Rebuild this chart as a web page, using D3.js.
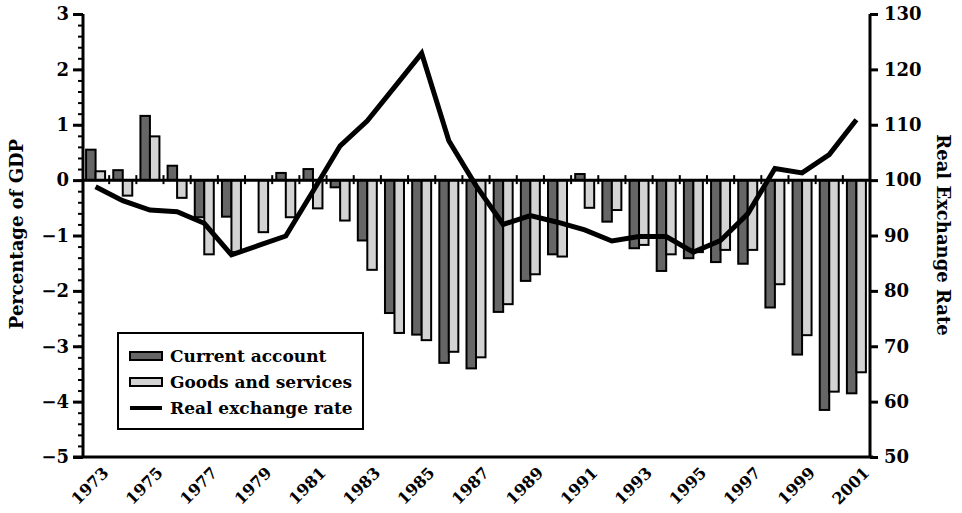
<!DOCTYPE html>
<html>
<head>
<meta charset="utf-8">
<script src="https://cdnjs.cloudflare.com/ajax/libs/d3/7.8.5/d3.min.js"></script>
<style>
  body { margin: 0; background: #fff; }
  svg text { font-family: "DejaVu Serif", "Liberation Serif", serif; font-weight: bold; fill: #000; }
</style>
</head>
<body>
<div id="chart"></div>
<script>
"use strict";

// == DATA ==
var years = d3.range(1973, 2002).map(String);
var currentAccount = [0.55, 0.18, 1.16, 0.26, -0.67, -0.66, 0.0, 0.13, 0.2, -0.13,
  -1.09, -2.4, -2.79, -3.3, -3.4, -2.38, -1.82, -1.34, 0.11, -0.75,
  -1.23, -1.64, -1.41, -1.48, -1.51, -2.3, -3.15, -4.15, -3.85];
var goodsServices = [0.16, -0.28, 0.79, -0.32, -1.34, -1.3, -0.94, -0.67, -0.51, -0.73,
  -1.62, -2.76, -2.89, -3.1, -3.2, -2.24, -1.7, -1.38, -0.5, -0.54,
  -1.17, -1.34, -1.3, -1.26, -1.26, -1.88, -2.8, -3.82, -3.47];
var exchangeRate = [98.8, 96.3, 94.6, 94.3, 92.2, 86.5, 88.2, 89.9, 98.0, 106.2,
  110.7, 116.8, 122.9, 107.1, 99.0, 92.0, 93.6, 92.4, 91.0, 89.0,
  89.8, 89.8, 87.0, 89.1, 93.9, 102.1, 101.3, 104.6, 110.9];
var leftTicks = [3, 2, 1, 0, -1, -2, -3, -4, -5];
var rightTicks = [130, 120, 110, 100, 90, 80, 70, 60, 50];
var labelYears = years.filter(function(d, i){ return i % 2 === 0; });
var legendItems = ["Current account", "Goods and services", "Real exchange rate"];

// == BOILERPLATE ==
var width = 962, height = 513;
var plotLeft = 83, plotRight = 870, plotTop = 14, plotBottom = 457;

var svg = d3.select("#chart")
            .append("svg")
            .attr("width", width)
            .attr("height", height);

var x = d3.scaleBand()
  .domain(years)
  .range([plotLeft - 1, plotRight]);

var yLeft = d3.scaleLinear()
  .domain([-5, 3])
  .range([plotBottom, plotTop]);

var yRight = d3.scaleLinear()
  .domain([50, 130])
  .range([plotBottom, plotTop]);

var barW = 9.5;
var rows = years.map(function(d, i){
  return { year: d, ca: currentAccount[i], gs: goodsServices[i], rate: exchangeRate[i] };
});

// == BARS ==
var bars = svg.append("g");
bars.selectAll(".ca")
  .data(rows)
  .enter()
  .append("rect")
  .attr("class", "ca")
  .attr("x", function(d){ return x(d.year) + x.bandwidth() / 2 - barW; })
  .attr("y", function(d){ return yLeft(Math.max(0, d.ca)); })
  .attr("width", barW)
  .attr("height", function(d){ return Math.abs(yLeft(d.ca) - yLeft(0)); })
  .attr("fill", "#666666")
  .attr("stroke", "#000")
  .attr("stroke-width", 2)
  .style("display", function(d){ return d.ca === 0 ? "none" : null; });

bars.selectAll(".gs")
  .data(rows)
  .enter()
  .append("rect")
  .attr("class", "gs")
  .attr("x", function(d){ return x(d.year) + x.bandwidth() / 2; })
  .attr("y", function(d){ return yLeft(Math.max(0, d.gs)); })
  .attr("width", barW)
  .attr("height", function(d){ return Math.abs(yLeft(d.gs) - yLeft(0)); })
  .attr("fill", "#d3d3d3")
  .attr("stroke", "#000")
  .attr("stroke-width", 2);

// zero line with category ticks
svg.append("line")
  .attr("x1", plotLeft).attr("x2", plotRight)
  .attr("y1", yLeft(0)).attr("y2", yLeft(0))
  .attr("stroke", "#000").attr("stroke-width", 3);

svg.selectAll(".cattick")
  .data(years.slice(1))
  .enter()
  .append("line")
  .attr("class", "cattick")
  .attr("x1", function(d){ return x(d); })
  .attr("x2", function(d){ return x(d); })
  .attr("y1", yLeft(0) - 5)
  .attr("y2", yLeft(0) + 4)
  .attr("stroke", "#000").attr("stroke-width", 2);

// == LINE ==
var line = d3.line()
  .x(function(d){ return x(d.year) + x.bandwidth() / 2; })
  .y(function(d){ return yRight(d.rate); });

svg.append("path")
  .datum(rows)
  .attr("d", line)
  .attr("fill", "none")
  .attr("stroke", "#000")
  .attr("stroke-width", 5)
  .attr("stroke-linejoin", "miter");

// == AXES ==
var leftAxis = svg.append("g")
  .attr("transform", "translate(" + plotLeft + ",0)")
  .call(d3.axisLeft(yLeft).tickValues(d3.range(-5, 3.01, 0.2)).tickSize(5).tickFormat(""));
leftAxis.select(".domain").remove();
leftAxis.selectAll("line").attr("stroke-width", 2);

var leftMajor = svg.append("g")
  .attr("transform", "translate(" + plotLeft + ",0)")
  .call(d3.axisLeft(yLeft).tickValues(leftTicks).tickSize(10).tickPadding(4)
        .tickFormat(function(d){ return d < 0 ? "\u2212" + Math.abs(d) : d; }));
leftMajor.select(".domain").remove();
leftMajor.selectAll("line").attr("stroke-width", 3);
leftMajor.selectAll("text").style("font-size", "18px");

svg.append("line")
  .attr("x1", plotLeft).attr("x2", plotLeft)
  .attr("y1", plotTop).attr("y2", plotBottom)
  .attr("stroke", "#000").attr("stroke-width", 3);

var rightAxis = svg.append("g")
  .attr("transform", "translate(" + plotRight + ",0)")
  .call(d3.axisRight(yRight).tickValues(rightTicks).tickSize(8).tickPadding(6));
rightAxis.select(".domain").remove();
rightAxis.selectAll("line").attr("stroke-width", 3);
rightAxis.selectAll("text").style("font-size", "18px");

svg.append("line")
  .attr("x1", plotRight).attr("x2", plotRight)
  .attr("y1", plotTop).attr("y2", plotBottom)
  .attr("stroke", "#000").attr("stroke-width", 3);

svg.append("line")
  .attr("x1", plotLeft - 10).attr("x2", plotRight + 3)
  .attr("y1", plotBottom).attr("y2", plotBottom)
  .attr("stroke", "#000").attr("stroke-width", 3);

// year labels, rotated
svg.selectAll(".yearlabel")
  .data(labelYears)
  .enter()
  .append("text")
  .attr("class", "yearlabel")
  .attr("text-anchor", "end")
  .attr("transform", function(d){
    return "translate(" + (x(d) + x.bandwidth() / 2 + 14) + "," + (plotBottom + 17) + ") rotate(-45)";
  })
  .style("font-size", "16px")
  .text(function(d){ return d; });

// axis titles
svg.append("text")
  .attr("transform", "translate(23," + 234 + ") rotate(-90)")
  .attr("text-anchor", "middle")
  .style("font-size", "18px")
  .text("Percentage of GDP");

svg.append("text")
  .attr("transform", "translate(937," + 235 + ") rotate(90)")
  .attr("text-anchor", "middle")
  .style("font-size", "18px")
  .text("Real Exchange Rate");

// == LEGEND ==
var legend = svg.append("g").attr("transform", "translate(118,333)");
legend.append("rect")
  .attr("width", 245).attr("height", 96)
  .attr("fill", "#fff").attr("stroke", "#000").attr("stroke-width", 2);

var legendRow = legend.selectAll(".item")
  .data(legendItems)
  .enter()
  .append("g")
  .attr("class", "item")
  .attr("transform", function(d, i){ return "translate(12," + (23 + i * 26) + ")"; });

legendRow.append("rect")
  .attr("width", 32).attr("height", function(d, i){ return i < 2 ? 8 : 4; })
  .attr("y", function(d, i){ return i < 2 ? -4 : -2; })
  .attr("fill", function(d, i){ return i === 0 ? "#666666" : i === 1 ? "#d3d3d3" : "#000"; })
  .attr("stroke", "#000")
  .attr("stroke-width", function(d, i){ return i < 2 ? 2 : 0; });

legendRow.append("text")
  .attr("x", 40)
  .attr("y", 6)
  .style("font-size", "17px")
  .text(function(d){ return d; });
</script>
</body>
</html>
